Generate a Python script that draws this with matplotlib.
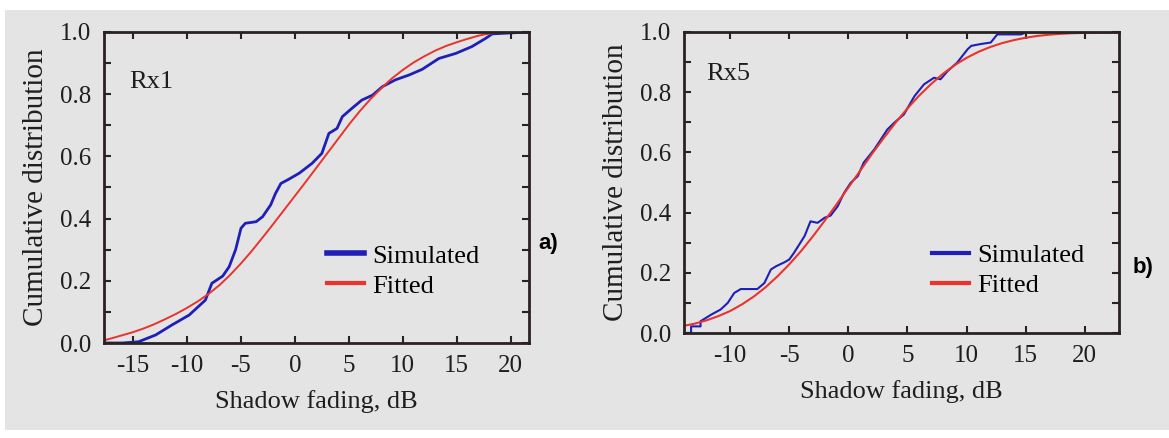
import matplotlib
matplotlib.use("Agg")
import matplotlib.pyplot as plt
from matplotlib.patches import Rectangle
from matplotlib.ticker import MultipleLocator

# Rx1 (panel a) - simulated CDF
rx1_sim_x = [-17.9, -16.0, -14.5, -12.9, -11.4, -9.8, -8.3, -7.7, -6.7, -6.1, -5.5, -5.0,
             -4.6, -3.6, -3.0, -2.25, -1.8, -1.3, -0.6, 0.4, 1.0, 1.6, 2.5, 3.15, 3.9,
             4.4, 5.3, 6.2, 7.2, 8.1, 9.3, 10.6, 11.8, 13.35, 14.9, 16.4, 17.7, 18.3, 21.7]
rx1_sim_y = [0.0, 0.0, 0.004, 0.026, 0.058, 0.09, 0.138, 0.192, 0.215, 0.245, 0.30, 0.369,
             0.385, 0.39, 0.406, 0.444, 0.481, 0.513, 0.526, 0.546, 0.562, 0.578, 0.61, 0.674, 0.69,
             0.728, 0.755, 0.781, 0.797, 0.824, 0.846, 0.862, 0.88, 0.915, 0.931, 0.953, 0.98, 0.994, 1.0]

# Rx1 - fitted curve
rx1_fit_x = [-17.9, -17, -16, -15, -14, -13, -12, -11, -10, -9, -8, -7, -6, -5, -4, -3, -2, -1,
             0, 1, 2, 3, 4, 5, 6, 7, 8, 9, 10, 11, 12, 13, 14, 15, 16, 17, 18, 19, 20, 21.7]
rx1_fit_y = [0.007, 0.015, 0.025, 0.035, 0.047, 0.061, 0.077, 0.094, 0.113, 0.134, 0.158, 0.186,
             0.219, 0.256, 0.296, 0.339, 0.383, 0.428, 0.473, 0.518, 0.564, 0.61, 0.656, 0.702,
             0.745, 0.784, 0.819, 0.851, 0.878, 0.902, 0.922, 0.940, 0.955, 0.967, 0.978, 0.988,
             0.995, 0.999, 1.0, 1.0]

# Rx5 (panel b) - simulated CDF
rx5_sim_x = [-13.9, -13.3, -13.3, -12.5, -12.5, -11.6, -10.8, -10.2, -9.65, -9.1, -7.7, -7.1,
             -6.55, -6.1, -5.4, -5.0, -4.6, -3.7, -3.2, -2.6, -2.0, -1.5, -0.9, -0.35, 0.2,
             0.8, 1.3, 2.2, 2.75, 3.3, 3.9, 4.7, 5.6, 6.4, 7.25, 7.8, 8.4, 9.2, 10.1, 10.4,
             11.2, 12.05, 12.6, 14.6, 15.15, 22.9]
rx5_sim_y = [0.0, 0.0, 0.022, 0.022, 0.039, 0.061, 0.078, 0.10, 0.133, 0.146, 0.146, 0.166,
             0.211, 0.222, 0.235, 0.244, 0.266, 0.322, 0.371, 0.366, 0.383, 0.39, 0.421, 0.466, 0.499,
             0.521, 0.566, 0.61, 0.643, 0.676, 0.699, 0.726, 0.787, 0.826, 0.848, 0.843, 0.87, 0.898, 0.943, 0.954,
             0.96, 0.965, 0.992, 0.992, 1.0, 1.0]

# Rx5 - fitted curve
rx5_fit_x = [-13.9, -13, -12, -11, -10, -9, -8, -7, -6, -5, -4, -3, -2, -1, 0, 1, 2, 3, 4,
             5, 6, 7, 8, 9, 10, 11, 12, 13, 14, 15, 16, 17, 18, 19, 20, 21, 22, 22.9]
rx5_fit_y = [0.024, 0.031, 0.042, 0.056, 0.073, 0.095, 0.121, 0.152, 0.188, 0.228, 0.272, 0.321,
             0.373, 0.427, 0.483, 0.539, 0.595, 0.648, 0.699, 0.746, 0.789, 0.827, 0.861, 0.89,
             0.914, 0.934, 0.950, 0.963, 0.973, 0.981, 0.987, 0.991, 0.994, 0.996, 0.997, 0.998, 0.999, 0.999]

x_ticks = [-15, -10, -5, 0, 5, 10, 15, 20]
series_names = ["Simulated", "Fitted"]

blue = "#1f1fb8"
red = "#e8342c"
bg = "#e4e4e4"
ink = "#2a2222"

plt.rcParams["font.family"] = ["Liberation Serif", "DejaVu Serif"]
plt.rcParams["axes.unicode_minus"] = False

fig = plt.figure(figsize=(11.69, 4.38), dpi=100)
fig.patch.set_facecolor("white")
fig.patches.append(Rectangle((5 / 1169, 8 / 438), 1 - 5 / 1169, 1 - 18 / 438,
                             transform=fig.transFigure, facecolor=bg, edgecolor="none", zorder=-10))

ax1 = fig.add_axes([104 / 1169, 1 - 343 / 438, 425 / 1169, 311 / 438])
ax2 = fig.add_axes([684 / 1169, 1 - 333 / 438, 435 / 1169, 301 / 438])


def style(ax, xlim, ticks):
    ax.set_facecolor(bg)
    ax.set_xlim(*xlim)
    ax.set_ylim(0, 1.0)
    ax.set_xticks(ticks)
    ax.yaxis.set_major_locator(MultipleLocator(0.2))
    ax.yaxis.set_minor_locator(MultipleLocator(0.1))
    ax.yaxis.set_major_formatter(matplotlib.ticker.FormatStrFormatter("%.1f"))
    ax.tick_params(which="both", direction="in", top=True, right=True, length=5, width=1.5,
                   color=ink, labelsize=18, labelcolor="#1e1e1e")
    ax.tick_params(axis="x", pad=9)
    ax.tick_params(axis="y", pad=9)
    for s in ax.spines.values():
        s.set_linewidth(2.0)
        s.set_color(ink)
    ax.set_xlabel("Shadow fading, dB", fontsize=19, color="#1e1e1e", labelpad=9)
    ax.set_ylabel("Cumulative distribution", fontsize=21, color="#1e1e1e", labelpad=8)


# panel a
ax1.plot(rx1_sim_x, rx1_sim_y, color=blue, lw=2.0, label=series_names[0])
ax1.plot(rx1_fit_x, rx1_fit_y, color=red, lw=1.4, label=series_names[1])
style(ax1, (-17.7, 21.7), x_ticks)
ax1.text(0.06, 0.84, "Rx1", transform=ax1.transAxes, fontsize=19, va="center", color="#1e1e1e")
leg1 = ax1.legend(loc="center left", bbox_to_anchor=(0.525, 0.232), frameon=False, fontsize=19,
                  handlelength=1.4, handletextpad=0.3, labelspacing=0.25, borderpad=0, borderaxespad=0)
leg1.get_lines()[0].set_linewidth(4)
leg1.get_lines()[1].set_linewidth(3)

# panel b
ax2.plot(rx5_sim_x, rx5_sim_y, color=blue, lw=1.5, label=series_names[0])
ax2.plot(rx5_fit_x, rx5_fit_y, color=red, lw=1.5, label=series_names[1])
style(ax2, (-13.9, 22.9), x_ticks[1:])
ax2.text(0.05, 0.86, "Rx5", transform=ax2.transAxes, fontsize=19, va="center", color="#1e1e1e")
leg2 = ax2.legend(loc="center left", bbox_to_anchor=(0.57, 0.208), frameon=False, fontsize=19,
                  handlelength=1.4, handletextpad=0.3, labelspacing=0.25, borderpad=0, borderaxespad=0)
leg2.get_lines()[0].set_linewidth(3)
leg2.get_lines()[1].set_linewidth(3)

fig.text(548 / 1169, 1 - 243 / 438, "a)", fontsize=16, fontweight="bold",
         family="Liberation Sans", ha="center", va="center")
fig.text(1143 / 1169, 1 - 268 / 438, "b)", fontsize=16, fontweight="bold",
         family="Liberation Sans", ha="center", va="center")

fig.savefig("out.png", dpi=100, facecolor=fig.get_facecolor())
